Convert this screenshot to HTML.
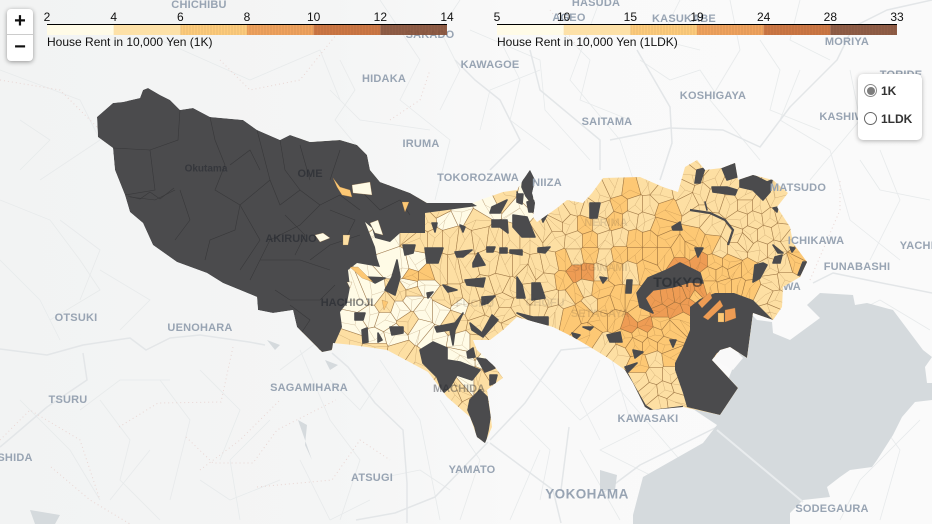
<!DOCTYPE html>
<html lang="en">
<head>
<meta charset="utf-8">
<title>Tokyo House Rent Map</title>
<style>
html,body{margin:0;padding:0;background:#f9f9f9;}
#map{position:relative;width:932px;height:524px;overflow:hidden;background:#f9f9f9;font-family:"Liberation Sans",sans-serif;}
#map svg{position:absolute;left:0;top:0;}
.zoom{position:absolute;left:7px;top:9px;width:26px;height:52px;background:#fff;border-radius:4px;box-shadow:0 1px 5px rgba(0,0,0,.4);}
.zoom div{width:26px;height:26px;line-height:25px;text-align:center;font:bold 20px/25px "Liberation Sans",sans-serif;color:#111;cursor:pointer;}
.zoom div:first-child{border-bottom:1px solid #ccc;height:25px;}
.panel{position:absolute;left:858px;top:74px;width:64px;height:66px;background:#fff;border-radius:5px;box-shadow:0 1px 5px rgba(0,0,0,.3);}
.panel label{position:absolute;left:6px;display:block;font:bold 12px/14px "Liberation Sans",sans-serif;color:#333;cursor:pointer;white-space:nowrap;}
.panel input{appearance:none;-webkit-appearance:none;margin:0 4px 0 0;width:13px;height:13px;border:1px solid #666;border-radius:50%;background:#fff;vertical-align:-2px;position:relative;box-sizing:border-box;}
.panel input:checked{border-color:#8a8a8a;}
.panel input:checked::after{content:"";position:absolute;left:1.5px;top:1.5px;width:8px;height:8px;border-radius:50%;background:#7d7d7d;}
</style>
</head>
<body>
<div id="map">
<svg id="chart" width="932" height="524" viewBox="0 0 932 524" xmlns="http://www.w3.org/2000/svg">
  <defs>
    <clipPath id="tokyoClip"><path id="tokyoClipPath"/></clipPath>
    <linearGradient id="terrain" x1="0" x2="1" y1="0" y2="0">
      <stop offset="0" stop-color="#f2f3f3"/><stop offset="0.35" stop-color="#f4f5f5"/><stop offset="0.55" stop-color="#f9f9f9"/><stop offset="1" stop-color="#fafafa"/>
    </linearGradient>
    <pattern id="barStripes" width="3" height="10" patternUnits="userSpaceOnUse"><line x1="1" x2="1" y1="0" y2="10" stroke="#000" stroke-opacity=".07" stroke-width="1"/></pattern>
  </defs>
  <rect x="0" y="0" width="932" height="524" fill="url(#terrain)"/>
  <g id="basemap" font-family="'Liberation Sans',sans-serif" font-weight="700" font-size="11" text-anchor="middle"></g>
  <g id="cells" clip-path="url(#tokyoClip)"></g>
  <g id="patches" clip-path="url(#tokyoClip)"></g>
  <g id="baseLabels" font-family="'Liberation Sans',sans-serif" font-weight="700" font-size="11" fill="#98a4b3" text-anchor="middle"></g>
  <g id="overLabels" font-family="'Liberation Sans',sans-serif" font-weight="700" font-size="11" text-anchor="middle"></g>
  <g id="legends" font-family="'Liberation Sans',sans-serif" font-size="12" fill="#111"></g>
</svg>
<div class="zoom">
  <div>+</div>
  <div>&#8722;</div>
</div>
<div class="panel">
  <label style="top:10px"><input type="radio" name="layer" value="1K" checked>1K</label>
  <label style="top:38px"><input type="radio" name="layer" value="1LDK">1LDK</label>
</div>
</div>
<script>
/* ---------- legend data ---------- */
const ticks1K = [2, 4, 6, 8, 10, 12, 14];
const ticks1LDK = [5, 10, 15, 19, 24, 28, 33];
const binColors = ["#fffbe6", "#fddfa3", "#fdc874", "#ee9c54", "#c96f38", "#89533a"];
const noDataColor = "#4b4b4d";

/* ---------- district data: grid position (1 unit ~ 1.2 km) and rent ---------- */
const districtEast = [
37.8,38.8,40,41.2,42.8,44.5,44,46.2,47.6,48.5,
50.5,52,52.8,36,37.2,38.5,35.5,37,38.5,40,
41.2,42.5,41,40.2,41.5,39.5,37.5,35,37.5,40,
41.5,40.8,42.5,44,42,43.2,44.5,46,45.5,47.5,
49,50.5,50.5,52,48,49.5,51,46.2,47.8,49,
46,47,47.8,46.2,47,49.8,45.5,42,43.5,45,
46.5,48,49.5,51,53,54.5,55.5,41.2,42.5,44,
45.5,46.5,49,50.5,52,53.5,55,56.5,40,41.2,
45.5,47,48.5,50,51,52.7,54.8,56.3,55.2,56.5,
57.5,55.5,57,58.5,54,53,56,57.5,59,55.5,
57,58.5,60,61.5,63,64.8,66,60.5,62,63.5,
65,66.5,60,61.5,63,64.5,66,57.5,59,60.5,
62,63.5,65,66.5,57.5,59,60.5,62,63.5,65,
66.5,68,57.5,58.8,60,61.5,63,64.5,58.5,60,
63,59,60.5,62,64,60,61.5,63,64.5,66,
59,60.5,62.5,64,65.5,67,61.8,63.5,65,66.5,
64,65.5,67,64,65.5,67,65,66.5,68,66,
67.5,65.5,66.8,68,69,66,67.5,68.8,68,69.5,
70,69.5,71,68,70,71.5,73,69,72,73.5,
74.5,71,72.2,73.5,74.8,71,72.5,73.8,75,69.2,
68.5,70,71.5,73,74.5,70,71.5,73,74.5,76,
77.5,69,70,71.2,74,75.5,77,78.2,73.5,75,
76.5,78,79,76,77.5,78.5,77,79.5,80,77.2,
78.5,76.5,77.5,77
];
const districtSouth = [
21.5,22.8,21.5,22.8,22.2,22,21,21.2,22,20.5,
19.5,20.8,20,30,29.5,30.5,32.5,31.5,32,31,
30,28.5,28.5,26.8,26.5,33.5,34,34,34.7,35.2,
36.2,32.2,31,31,33,34,30,30.5,32,31,
30.5,30,31.5,30.5,32.5,33,32.5,34.5,34.5,35.5,
35.5,38.5,38.5,39.2,40.8,37.2,39.5,23.8,23.8,23.8,
24,23.8,24,24,24,23,23.8,27.5,27.5,27,
27,26.8,26.2,26.5,26.5,26.8,26.5,26.2,29.2,29.2,
29.8,29.5,29,28.5,29,27.2,28.2,28,30,30,
29.3,31.2,31.5,31,30.5,29.5,21.5,20.5,21,22.5,
22.5,22.5,19.5,18.8,19,18.5,19.5,21,20.5,20.5,
20.5,21,22.5,22,22,22.2,22.8,24,24,24,
23.8,24,24,24,25.8,25.5,25.8,25.5,25.5,25.5,
25.5,25,27.2,27.2,27.2,27,27,26.8,28.8,29,
30,30.5,30.5,30,31.5,32,32,32.5,32.5,32.2,
33.5,34.5,33.8,33.5,33.5,33,35.5,34.5,34.5,34.5,
36.5,36,35.8,38,37.5,37.5,39.2,39,38.5,40.4,
40.2,30,29.8,29.6,29.2,31.2,31,30.5,32,29.5,
29,24,24.5,26.5,26.2,26.2,26.2,25,25,25,
24,27.5,27.5,27.2,27.2,28.7,28.5,28.5,28.8,17.5,
19,16.5,17.8,18.5,19.5,19.5,20,20.5,20.5,20.5,
19.8,20,21.5,22.5,22,22,21.8,21.5,23.5,23.5,
23.5,23.2,24,25,25,26.5,26.8,26.2,25.2,28.2,
28,29.5,30,31.2
];
const rent1K = [
3,3,3.5,5,4,3.5,5,3.5,4.5,3.5,
4,3,3,3,3,5,3,3,3,3.5,
3,3.5,3,3.5,3,3,3,5,5.5,5,
5,4.5,3,3,3,3,4,3.5,4.5,5,
5,5,5,5,4,5.5,5,3,4,3,
3,3,5.5,5,5.5,4,4,5,4.5,5,
5,4.5,5,4.5,5,5,5.5,6.5,6,5,
5,4.5,5.5,5.5,5,5.5,5.5,6,5,5,
5,5,5,5,5,5.5,5.5,6.5,5.5,5.5,
7,5.5,6,6.5,5,5,5.5,5.5,5.5,5,
5.5,6.5,5.5,5.5,6,5.5,5,5.5,6,5.5,
5,6,5.5,6.5,5.5,5.5,7,5.5,6,5.5,
5.5,7,6,6.5,5.5,6,5.5,7,6,7,
7,7,8.5,8.5,5.5,7,5.5,6.5,5.5,6,
6.5,5.5,6,7,7,6,7,8,8.5,7.5,
6,5.5,6,7,7,6,5.5,6,6,7,
6,5.5,7,5.5,5.5,5.5,5.5,5.5,5.5,5.5,
5.5,9,9.5,9,8,8.5,8.5,8,7.5,7.5,
8,7,6,8,8,7.5,7,7.5,5.5,5.5,
5.5,7,7.5,7,7,7,7,6.5,6,5.5,
5,5.5,4.5,4.5,5,5,5,5,5.5,5,
5.5,4.5,5.5,5.5,5,5.5,5.5,5.5,5,5,
5.5,4.5,5.5,5.5,5,4,4,6,6.5,4.5,
5.5,5,5.5,4
];
const rent1LDK = [
8,8,9,13,10,9,13,9,11,9,
10,8,8,8,8,13,8,8,8,9,
8,9,8,9,8,8,8,13,14,13,
13,11,8,8,8,8,10,9,11,13,
13,13,13,13,10,14,13,8,10,8,
8,8,14,13,14,10,10,13,11,13,
13,11,13,11,13,13,14,17,15,13,
13,11,14,14,13,14,14,15,13,13,
13,13,13,13,13,14,14,17,14,14,
18,14,15,17,13,13,14,14,14,13,
14,17,14,14,15,14,13,14,15,14,
13,15,14,17,14,14,18,14,15,14,
14,18,15,17,14,15,14,18,15,18,
18,18,22,22,14,18,14,17,14,15,
17,14,15,18,18,15,18,21,22,20,
15,14,15,18,18,15,14,15,15,18,
15,14,18,14,14,14,14,14,14,14,
14,24,25,24,21,22,22,21,20,20,
21,18,15,21,21,20,18,20,14,14,
14,18,20,18,18,18,18,17,15,14,
13,14,11,11,13,13,13,13,14,13,
14,11,14,14,13,14,14,14,13,13,
14,11,14,14,13,10,10,15,17,11,
14,13,14,10
];

/* ---------- geography, in the same grid units ---------- */
const tokyoOutline = "14.8,8.8 14.3,9 14,9.8 12.3,10.2 11.3,10.3 9.7,11.7 9.8,13.7 11.3,14.8 11.5,17 12.5,19.5 13,21.2 14.3,22.3 15.3,24.5 17.7,26.2 20.7,27.3 22.3,28.3 25.7,29.7 25.8,31 27.3,31.3 29.3,31 29.7,32.7 32.2,35.2 33.2,35 33.3,34.3 35.3,34.5 38.7,35 42.8,37.2 44.7,39.7 47,41.7 47.7,43.7 48.5,44.3 49.2,42.7 49,41 48.7,39 49.3,38.5 50.3,37.8 49.5,36.7 47.7,35 47.3,34 49,34 50.3,33 51.7,31.7 55.3,32.7 57.3,33.7 59,34.7 60.8,35.8 62.5,37 63.3,38.3 64.5,40.7 65,41 68.3,40.7 72,41.5 73.8,38.8 71.2,36 72,35 73,34.7 74.7,35.8 75.3,31.3 77.3,32 78.2,30.7 78.3,28.7 80,27.7 80.7,26.2 79.3,24.3 79,22.7 77.7,20.7 78.8,19.3 77.3,18 75.3,17.5 73.8,18 73.5,16.3 72.2,16.8 70.5,17 69.7,16 68.5,16.7 67.8,19.2 66.3,18.7 64,17.7 60.3,17.8 59.2,19.3 58.3,20.3 56.7,20 55.7,20.8 53.7,22.2 53.3,21.7 53.5,20.3 53.2,19.3 53.5,18 53,17 52.3,18 51.7,19 50.3,19.2 48,20 47.3,20.3 42.7,20.3 41,19.3 38,18.2 37,17 36.7,15.5 35.7,14.5 34,14 31,14.2 29,13.5 28,14 25.7,13 24.3,12 21,11.7 19.3,10.8 18,11 17,10 16,9.5";
const westForest = "14.8,8.8 14.3,9 14,9.8 12.3,10.2 11.3,10.3 9.7,11.7 9.8,13.7 11.3,14.8 11.5,17 12.5,19.5 13,21.2 14.3,22.3 15.3,24.5 17.7,26.2 20.7,27.3 22.3,28.3 25.7,29.7 25.8,31 27.3,31.3 29.3,31 29.7,32.7 32.2,35.2 33,35.3 33.4,34.5 34.2,32.7 34,31.2 34.7,30.3 35,28.7 34.8,27 35.7,26.3 38,26.7 37.7,25.8 37.5,24.7 36.5,22.2 37.2,22.8 37.5,23.8 39,24.2 40,23.3 42.5,23.3 42.5,21.3 47.7,20.6 47.2,20.3 42.7,20.3 41,19.3 38,18.2 37,17 36.7,15.5 35.7,14.5 34,14 31,14.2 29,13.5 28,14 25.7,13 24.3,12 21,11.7 19.3,10.8 18,11 17,10 16,9.5";
const bayNoData = "73.4,29.3 75.3,30 77.3,32 75.3,31.3 74.7,35.8 73,34.7 71.7,35.3 71.2,36 73.8,38.8 72,41.5 68.7,40.7 68.3,39.3 67.5,37 67.5,36.3 68.3,34.7 69,33 69,30.7 70,29.9 71.5,29.3";
const noDataPatches = [
"73.7,40.7 72.2,42.5 72.8,42.8 74,41.1",
"63.7,29.3 64.8,27.8 66.7,27 68,26.3 70,27.3 70.3,28.3 69,28.2 67.3,28.7 65.3,29 64.5,29.8 65.3,31.3 64,30.7",
"76.3,26.3 75.5,26.5 75.3,28.2 76,27.8 76.7,26.5",
"80,27.5 80.7,26.2 80.3,26.2 79.8,27.5",
"69.7,17 70.5,16.8 70,18.3 69.5,18.3",
"72.2,16.8 73.5,16.3 73.7,17.7 72.7,18",
"74,18 75.3,17.5 76.7,18.2 77.2,18 77,19.2 76.3,20 75.3,19 74,18.7",
"71.2,18.7 72.7,18.7 73.7,19 73.5,19.5 71.3,19.2",
"59,20.3 60,20.3 59.7,21.8 59,21.8",
"67.2,22.7 68,22.2 68.2,23 67.3,23",
"70.5,20.2 70.7,21",
"62.7,28 63.2,28 63.1,29.3 62.6,29.3",
"60.7,33.5 62,33.2 62.2,34.2 61,34.2",
"62.5,36.7 63.7,36.3 62.8,37.2",
"63.3,35 64.3,35.2 63.5,35.8",
"60,27.7 60.7,27.8 60.3,28.3",
"69.5,24.8 70.3,24.8 69.8,25.7",
"67,34 67.6,34 67.3,34.7",
"77.5,25.7 78.2,25.5 78,26.3 77.3,26.3",
"79,24.7 79.5,24.8 79.2,25.2",
"77.3,24.5 78.3,25.3 77.8,25.3",
"40.3,24.5 41.5,24.5 41.3,25.3 40.5,25.5",
"42.5,24.8 44.3,24.8 43.8,26.3 42.7,26.3",
"45.5,25.2 47.2,25 46.3,25.7 45.7,25.7",
"47.3,26.3 47.8,25.3 48.5,26.5 47.3,26.7",
"48.7,24.7 49.5,24.7 49.3,25.2 48.7,25.2",
"50,24.8 50.7,24.8 50.7,25.3 50,25.3",
"51,25 52.2,25 52.2,25.5 51,25.3",
"53.8,24.8 55,24.7 54.5,25.3 53.8,25.2",
"39.7,26 40,27.7 39.5,29.5 38.5,29 39.2,27.7",
"51.3,21.5 52.7,21.7 53.5,23.7 52.2,23.7 51.3,22.7",
"49.2,20.7 50.7,20 50,21.3 49,21.3",
"49.2,22 50.7,22 50.8,23.3 50,22.7 49.2,22.7",
"46.5,28 48.5,27.8 48.3,28.7 46.7,28.5",
"53.2,28.3 54,28.3 54.5,29.8 53.2,30",
"51.7,27.7 52.2,28.5 52.5,29.8 51.7,29.8",
"48.2,29.7 49.5,29.6 48.8,30.3 48.2,30.5",
"51.7,31.3 53.3,31.7 54.8,31.7 54.8,32.5 53.3,32.2",
"35.5,31.3 36.5,31.3 36.3,32 35.5,32",
"39,32.7 40.3,32.7 40.3,33.3 39.2,33.5",
"36.2,33 36.7,32.8 36.8,34.2 36.3,34.3",
"37.8,33.3 38.2,34 37.8,34.2",
"42,35 43.3,34.2 44.7,34.8 44.7,36 46,36.2 48,37 47.2,38 45.7,37.5 45,38.7 44.3,39.3 43.7,37.7 42.3,36.3",
"46.7,35.2 47.3,34.8 47.5,35.7 46.8,35.8",
"47.7,35.8 49,36 49.5,36.8 48.5,37.2",
"49,37.5 49.7,37.5 49.5,38.3 49,38.5",
"48,39 48.7,39.7 49,41.7 48.8,43 48.5,44.3 47.8,44 47.5,42.7 46.8,41 47,40",
"43.5,32.7 45.5,32.3 46.3,31.3 45.5,33 45.3,34.5 45,33 43.7,33.2",
"47,32.3 48.2,33.3 49.2,31.5 49.8,32 48.3,33.7 47.2,33",
"48.7,34.2 50,34.5 50,35 49,34.8",
"42.7,29.3 43.3,29.2 42.8,29.8",
"44.3,28.5 45.7,29 44.8,29.2",
"36.5,27.7 38.5,27.8 37.5,28.3",
"46,22.5 46.5,22.7 46.3,23.2",
"43.2,22.3 43.7,22.3 43.5,23.2",
"54,21.3 54.8,21.3 54.3,22.2",
"51.7,19.2 52,20",
"57.2,33.3 58,33.5 57.5,34",
"58.3,32.7 59.3,32.7 59,33",
"77.3,20.8 77.8,20.7 77.7,21.2",
"52.3,17.7 53,17 53.5,18 53.2,19.3 53.3,20.5 52.6,19.6 52.2,18.7",
"52.7,20.2 53.5,20 53.4,21.2 52.9,21.2",
"51.7,19.4 52.3,19.4 52.2,20.4 51.7,20.2"
];
const patchOutlines = [
"33.3,17.8 34,18.7 35,19 35.2,19.7 34.2,19.5 33.7,18.7",
"35.2,18.5 37,18.2 37.2,19.5 35.3,19.3",
"31.5,23.5 32.3,23.3 33,23.8 32,24.2",
"34.3,23.5 35,23.5 34.8,24.5 34.3,24.5",
"40.2,20.2 40.9,20.2 40.5,21.2",
"37,22.3 37.8,22 38.3,23.5 37.5,23.3",
"35,26.7 35.8,26.7 37.3,28.2 36.2,27.8",
"34.7,28.2 35.2,28.2 35,28.8",
"69.8,30.3 71,29.2 71.2,29.8 70.2,30.8",
"70.3,31.7 72,30 72.3,30.6 70.8,32",
"72.5,31 73.5,30.8 73.6,31.8 72.5,32.2",
"71.8,31.3 72.4,31.3 72.4,32.2 71.8,32.2",
"38.2,30 38.8,30.2 38.4,31"
];
const patchRent1K = [6, 3, 3, 5, 6, 3, 6, 3, 8, 8.5, 8.5, 7, 7];
const patchRent1LDK = [15, 8, 8, 13, 15, 8, 15, 8, 21, 22, 22, 18, 18];
const wardLines = [
"18,11 17.8,14 15,15 11.3,14.8","15,15 15.5,19 12.5,19.5","21,11.7 21.5,14 22.5,16.5 21.5,19 24,20.5 27,18 25.7,13",
"13,19.7 15.5,20 17.5,19","24,20.5 23.5,23 21,24 20.5,26","27,18 28,20.5 30,19 32,20.5 30,22.5","28,14 28.5,17 30,19",
"30,22.5 27,24 26,26 25,28","26,26 30,26 33,27","27.5,29 29,30 32,30 33.5,28.5","32,20.5 34,19.5 36,21","31,26 33,24.5 36,23.5",
"24,20.5 26,24 24,27","36,19 38,21 40,20 41,21.5","30,14.5 31,18","34,15 33,18","29,30.5 31,32 30,33.5 32,35",
"12.8,19.6 14,19.9 15,19.2 16,19.9 17.4,18.8","18,19 19,22 17.5,24","23,16.5 25,15 26,17","28.5,21.5 30.5,23.5 29.5,25.5","33,21 35.5,22 34.5,24"
];
const waterOutlines = [
"75,31.3 75.7,32 77.2,32.2 77.3,33.3 79,34 82,31.8 80.7,30.5 82,29.3 85.3,29.5 85.5,30.5 86.7,30.3 89.3,31 92.3,35 93.2,35.7 92.5,36.7 92.7,38.3 93.2,38.3 93.2,40 91.5,40.2 90.2,41.7 89.3,43.5 87.7,46 87.2,46.7 85,47 84,47.7 82.7,48.7 83,49.7 80.3,50 79,51.3 79,52.4 63.3,52.4 63.3,51.5 64.3,47.7 67.3,46 70.3,44.3 71.7,42.5 68.7,40.5 72,40 74,35 75,31.3",
"60,47 61.7,47.5 61.5,49 60,49",
"26.7,34 28,34.5 27.5,35",
"32.5,36 33.8,36.5 33,37",
"29.8,42 30.7,42.5 30.5,44.5 31.2,46",
"3,51 6,51.5 5.5,52.4 3.5,52.4"
];
const reclaimedLand = "71.2,35.8 72.8,34.3 74.3,35.8 73.3,37";
const majorRoads = [
"0,34.9 4.7,35.5 8.3,34.5 13,33.8 14.6,35 17,33.8 20,33.5 24.9,34.2 26.5,34.5",
"33.2,35.3 34.8,36.7 37.5,40.3 40.3,43 40.7,48.3 40.7,52.3",
"8.3,35.3 8.7,38 4.7,40.7 1.2,43.7 0,44.7",
"49,44 52.5,40.3 56.1,35 59.3,34.7",
"48.8,44.2 43.5,49.7 39.5,51.3 35.6,52",
"49,44.3 55.3,49 56.1,52.3",
"56.9,42.7 56.1,49",
"61,14 67,12.8 72.3,13 76,14.7 79,10.7 83.7,6 85.3,2.7 88.7,1 93.2,0",
"63.7,5 67,10.7 67.2,14.3 66,18",
"81.3,28.3 83.3,27.3 86.7,28 93.2,29.3",
"71.7,42.7 64,46.5 60,49.5",
"45.5,6 47.5,8 50,10 52,14 49,17",
"53,5 54,9 60,14 60,17"
];
const minorRoads = [
"47,3 54,6 54.5,11 59,16","38,0 42,6 40,10 45,14 43.5,20","60,0 57,8 62,14 64,20","73,0 74,5 71,10 76,16","85,7 86,12 81,18","88,15 90,20 87,26",
"0,7 8,10 10,14 4,18","16,4 25,8 32,5 34,10","43,13 36,12 33,9","54,7 49,9 48,13","30,35 33,42 36,46 34,52","38,36 42,42 44,52",
"10,27 15,30 12,33","5,32 10,29 8,26","0,26 4,30 6,34","20,37 24,41 22,46","16,38 19,42 17,50","27,42 23,46 24,52","28,37 32,34 29,30",
"52,36 58,42 62,39 68,46","54,45 51,52","60,32 63,42","88,32 85,38 90,45 88,52","92,42 86,48 84,52","15,45 11,50","8,41 12,38 17,38","80,7 78,12 83,15 85,22 90,26",
"0,20 5,22 8,26","2,40 7,45 10,50","58,45 62,52","30,46 33,52 37,50",
"34,6 35.5,9 33.5,12 36,15","46,0 44,3 46,7 44,11","50,4 52,8 51,12 55,15","56,3 59,6 58,10 63,12","64,6 67,8 70,7 72,10","76,4 78,7 77,11 82,13",
"68,0 66,4 70,5","80,0 79,4 83,6","86,16 88,19 93,20","84,32 88,30 93,33","44,40 48,46 46,52","52,42 55,45 54,50","33,38 36,41 38,38","37,48 42,47 45,49",
"10,40 13,44 12,48 16,52","20,48 23,50 28,48","6,22 10,25 8,30","2,12 5,14 2,17","60,36 58,40 60,44","64,43 60,45 66,48"
];
const borderDots = [
"11.9,42.7 15.8,40.3 22.1,40.2 23.3,34.7","5.1,46.7 9,50 13,52.4","18.6,43.7 21.3,46.3 25.3,46.3 27.7,43 33.6,40",
"25.7,48.7 33.2,48 36,44 39,46","20,47 24,44 28,40","22,6 25,9 30,8 34,3","0,8 6,9 10,13","39,12 42,10 43,7","55,1 58,5","81,28 84,21 84,18","0,44 3,41 8,44 10,50"
];

/* ---------- map labels ---------- */
const placeNames = ["CHICHIBU","HASUDA","SAKADO","AGEO","KASUKABE","MORIYA","KAWAGOE","KOSHIGAYA","SAITAMA","KASHIWA","TORIDE","HIDAKA","IRUMA","TOKOROZAWA","NIIZA","MATSUDO","ICHIKAWA","FUNABASHI","YACHIYO","OTSUKI","UENOHARA","SAGAMIHARA","TSURU","SHIDA","ATSUGI","YAMATO","KAWASAKI","SODEGAURA","YOKOHAMA"];
const placeEast = [19.9,59.6,43,56.9,68.4,84.7,49,71.3,60.7,84.6,90.1,38.4,42.1,47.8,54.7,79.8,81.6,85.7,92.5,7.6,20,30.9,6.8,1.5,37.2,47.2,64.8,83.2,58.7];
const placeSouth = [0.4,0.2,3.4,1.7,1.8,4.1,6.4,9.5,12.1,11.6,7.4,7.8,14.3,17.7,18.2,18.7,24,26.6,24.5,31.7,32.7,38.7,39.9,45.7,47.7,46.9,41.8,50.8,49.4];
const underNames = ["EDOGAWA"];
const underEast = [77.2];
const underSouth = [28.6];
const overNames = ["Okutama","OME","AKIRUNO","HACHIOJI","TOKYO","MACHIDA","NERIMA","SUGINAMI","SETAGAYA","CHOFU","FUCHU"];
const overEast = [20.6,31,29.1,34.7,67.8,45.9,60.6,60,60,54.5,47.5];
const overSouth = [16.8,17.3,23.8,30.2,28.2,38.8,22.2,26.7,31.3,30.2,30.3];
const overAlpha = [.5,.55,.55,.55,.6,.4,.12,.12,.12,.12,.12];

/* ---------- axis functions ---------- */
const gridPixels = 10;
const legendWidth = 400;
const legendLefts = [47, 497];
const xScale = e => e * gridPixels;
const yScale = s => s * gridPixels;
const SVGNS = "http://www.w3.org/2000/svg";

function el(tag, parent, attrs) {
  const n = document.createElementNS(SVGNS, tag);
  for (const k in attrs) n.setAttribute(k, attrs[k]);
  parent.appendChild(n);
  return n;
}
function parsePoints(s) {
  return s.trim().split(/\s+/).map(p => {
    const a = p.split(",").map(Number);
    return [xScale(a[0]), yScale(a[1])];
  });
}
function pathOf(points, close) {
  return "M" + points.map(p => p[0].toFixed(1) + " " + p[1].toFixed(1)).join("L") + (close ? "Z" : "");
}
function colorFor(value, ticks) {
  if (value === null || value === undefined) return noDataColor;
  for (let i = 0; i < binColors.length; i++) {
    if (value < ticks[i + 1]) return binColors[i];
  }
  return binColors[binColors.length - 1];
}

/* ---------- base map ---------- */
const base = document.getElementById("basemap");
minorRoads.forEach(r => {
  const p = el("path", base, {d: pathOf(parsePoints(r)), fill: "none", stroke: "#e7eaeb", "stroke-width": 0.8, "stroke-linejoin": "round"});
  
  
});
majorRoads.forEach(r => {
  const p = el("path", base, {d: pathOf(parsePoints(r)), fill: "none", stroke: "#e3e6e8", "stroke-width": 1.5, "stroke-linejoin": "round"});
  
  
});
borderDots.forEach(r => {
  const p = el("path", base, {d: pathOf(parsePoints(r)), fill: "none", stroke: "#e9d6d3", "stroke-width": 1, "stroke-dasharray": "1 3"});
  
  
});
waterOutlines.forEach(r => {
  const p = el("path", base, {d: pathOf(parsePoints(r), true), fill: "#d5dadd"});
  
  
});
const landIsle = el("path", base, {d: pathOf(parsePoints(reclaimedLand), true), fill: "#f9f9f9"});


const aqua = el("path", base, {d: pathOf(parsePoints("71.7,43 80.3,50.2")), stroke: "#e9ecee", "stroke-width": 2, fill: "none"});



underNames.forEach((name, i) => {
  const t = el("text", base, {x: xScale(underEast[i]), y: yScale(underSouth[i]), dy: ".35em", fill: "#98a4b3"});
  t.textContent = name;
  
  
});

const baseLabels = document.getElementById("baseLabels");
placeNames.forEach((name, i) => {
  const t = el("text", baseLabels, {x: xScale(placeEast[i]), y: yScale(placeSouth[i]), dy: ".35em", "letter-spacing": name === "YOKOHAMA" ? .4 : .2});
  t.textContent = name;
  if (name === "YOKOHAMA") t.setAttribute("font-size", "13.5");
  
  
});

/* ---------- voronoi cells for the districts ---------- */
const clip = document.getElementById("tokyoClipPath");
clip.setAttribute("d", pathOf(parsePoints(tokyoOutline), true));

function clipHalf(poly, a, b) {
  const mx = (a[0] + b[0]) / 2, my = (a[1] + b[1]) / 2;
  const nx = b[0] - a[0], ny = b[1] - a[1];
  const side = p => (p[0] - mx) * nx + (p[1] - my) * ny;
  const out = [];
  for (let i = 0; i < poly.length; i++) {
    const p = poly[i], q = poly[(i + 1) % poly.length];
    const sp = side(p), sq = side(q);
    if (sp <= 0) out.push(p);
    if ((sp < 0 && sq > 0) || (sp > 0 && sq < 0)) {
      const t = sp / (sp - sq);
      out.push([p[0] + (q[0] - p[0]) * t, p[1] + (q[1] - p[1]) * t]);
    }
  }
  return out;
}
const seeds = districtEast.map((e, i) => [xScale(e), yScale(districtSouth[i])]);
const cellsGroup = document.getElementById("cells");
const cellNodes = [];
seeds.forEach((s, i) => {
  let poly = [[300, 130], [840, 130], [840, 460], [300, 460]];
  seeds.forEach((o, j) => {
    if (j !== i && poly.length && !(o[0] === s[0] && o[1] === s[1])) poly = clipHalf(poly, s, o);
  });
  if (!poly.length) return;
  const c = el("path", cellsGroup, {d: pathOf(poly, true), stroke: "#8f6535", "stroke-opacity": .7, "stroke-width": .6});
  
  
  cellNodes.push({node: c, index: i, poly: poly, seed: s});
});
/* finer block boundaries inside each district */
cellNodes.forEach(c => {
  let d = "";
  c.poly.forEach((v, k) => {
    if (k % 2 === 0) d += "M" + c.seed[0].toFixed(1) + " " + c.seed[1].toFixed(1) + "L" + v[0].toFixed(1) + " " + v[1].toFixed(1);
  });
  const b = el("path", cellsGroup, {d: d, fill: "none", stroke: "#8f6535", "stroke-opacity": .4, "stroke-width": .45});
  
  
});

/* ---------- no-data regions and outlying districts ---------- */
const patchGroup = document.getElementById("patches");
const west = el("path", patchGroup, {d: pathOf(parsePoints(westForest), true), fill: noDataColor});


wardLines.forEach(r => {
  const l = el("path", patchGroup, {d: pathOf(parsePoints(r)), fill: "none", stroke: "#38383a", "stroke-width": .6});
  
  
});
const bay = el("path", patchGroup, {d: pathOf(parsePoints(bayNoData), true), fill: noDataColor});


noDataPatches.forEach(r => {
  const n = el("path", patchGroup, {d: pathOf(parsePoints(r), true), fill: noDataColor, stroke: noDataColor, "stroke-width": 1.6, "stroke-linejoin": "round"});
  
  
});
const river = el("path", patchGroup, {d: pathOf(parsePoints("69,21 71,21.3 72.5,22 73.3,23 72.8,24.5")), fill: "none", stroke: noDataColor, "stroke-width": 2.2});


const tama = el("path", patchGroup, {d: pathOf(parsePoints("62.5,37 63.3,38.5 64.5,40.6 65.3,41.1 68.3,40.7")), fill: "none", stroke: noDataColor, "stroke-width": 2.4});


const patchNodes = patchOutlines.map((r, i) => {
  const n = el("path", patchGroup, {d: pathOf(parsePoints(r), true), stroke: "#9a6f3f", "stroke-opacity": .5, "stroke-width": .5});
  
  
  return n;
});

function paint(series, patchSeries, ticks) {
  cellNodes.forEach(c => c.node.setAttribute("fill", colorFor(series[c.index], ticks)));
  patchNodes.forEach((n, i) => n.setAttribute("fill", colorFor(patchSeries[i], ticks)));
}
paint(rent1K, patchRent1K, ticks1K);

/* ---------- labels drawn over the choropleth ---------- */
const over = document.getElementById("overLabels");
overNames.forEach((name, i) => {
  const t = el("text", over, {x: xScale(overEast[i]), y: yScale(overSouth[i]), dy: ".35em", fill: "#20242b", "fill-opacity": overAlpha[i]});
  t.textContent = name;
  if (name === "Okutama") t.setAttribute("font-size", "10");
  if (name === "TOKYO") t.setAttribute("font-size", "14");
  
  
});

/* ---------- legends ---------- */
const legends = document.getElementById("legends");
function legendTitleOf(i) { return i === 0 ? "House Rent in 10,000 Yen (1K)" : "House Rent in 10,000 Yen (1LDK)"; }
[ticks1K, ticks1LDK].forEach((ticks, li) => {
  const left = legendLefts[li];
  const pos = k => left + k * legendWidth / (ticks.length - 1);
  binColors.forEach((c, k) => {
    const r = el("rect", legends, {x: pos(k), y: 25, width: pos(k + 1) - pos(k), height: 10, fill: c, "fill-opacity": .94});
    
    
  });
  const stripes = el("rect", legends, {x: pos(2), y: 25, width: pos(6) - pos(2), height: 10, fill: "url(#barStripes)"});
  
  
  const axis = el("line", legends, {x1: left, x2: left + legendWidth, y1: 24.5, y2: 24.5, stroke: "#000", "stroke-width": 1});
  
  
  ticks.forEach((v, k) => {
    const t = el("text", legends, {x: pos(k), y: 21, "text-anchor": "middle"});
    t.textContent = v;
    
    
  });
  const title = el("text", legends, {x: left, y: 46});
  title.textContent = legendTitleOf(li);
  
  
});

/* ---------- layer switcher ---------- */
document.querySelectorAll('input[name="layer"]').forEach(r => {
  r.addEventListener("change", () => {
    if (r.value === "1K") paint(rent1K, patchRent1K, ticks1K);
    else paint(rent1LDK, patchRent1LDK, ticks1LDK);
  });
});
</script>
</body>
</html>
